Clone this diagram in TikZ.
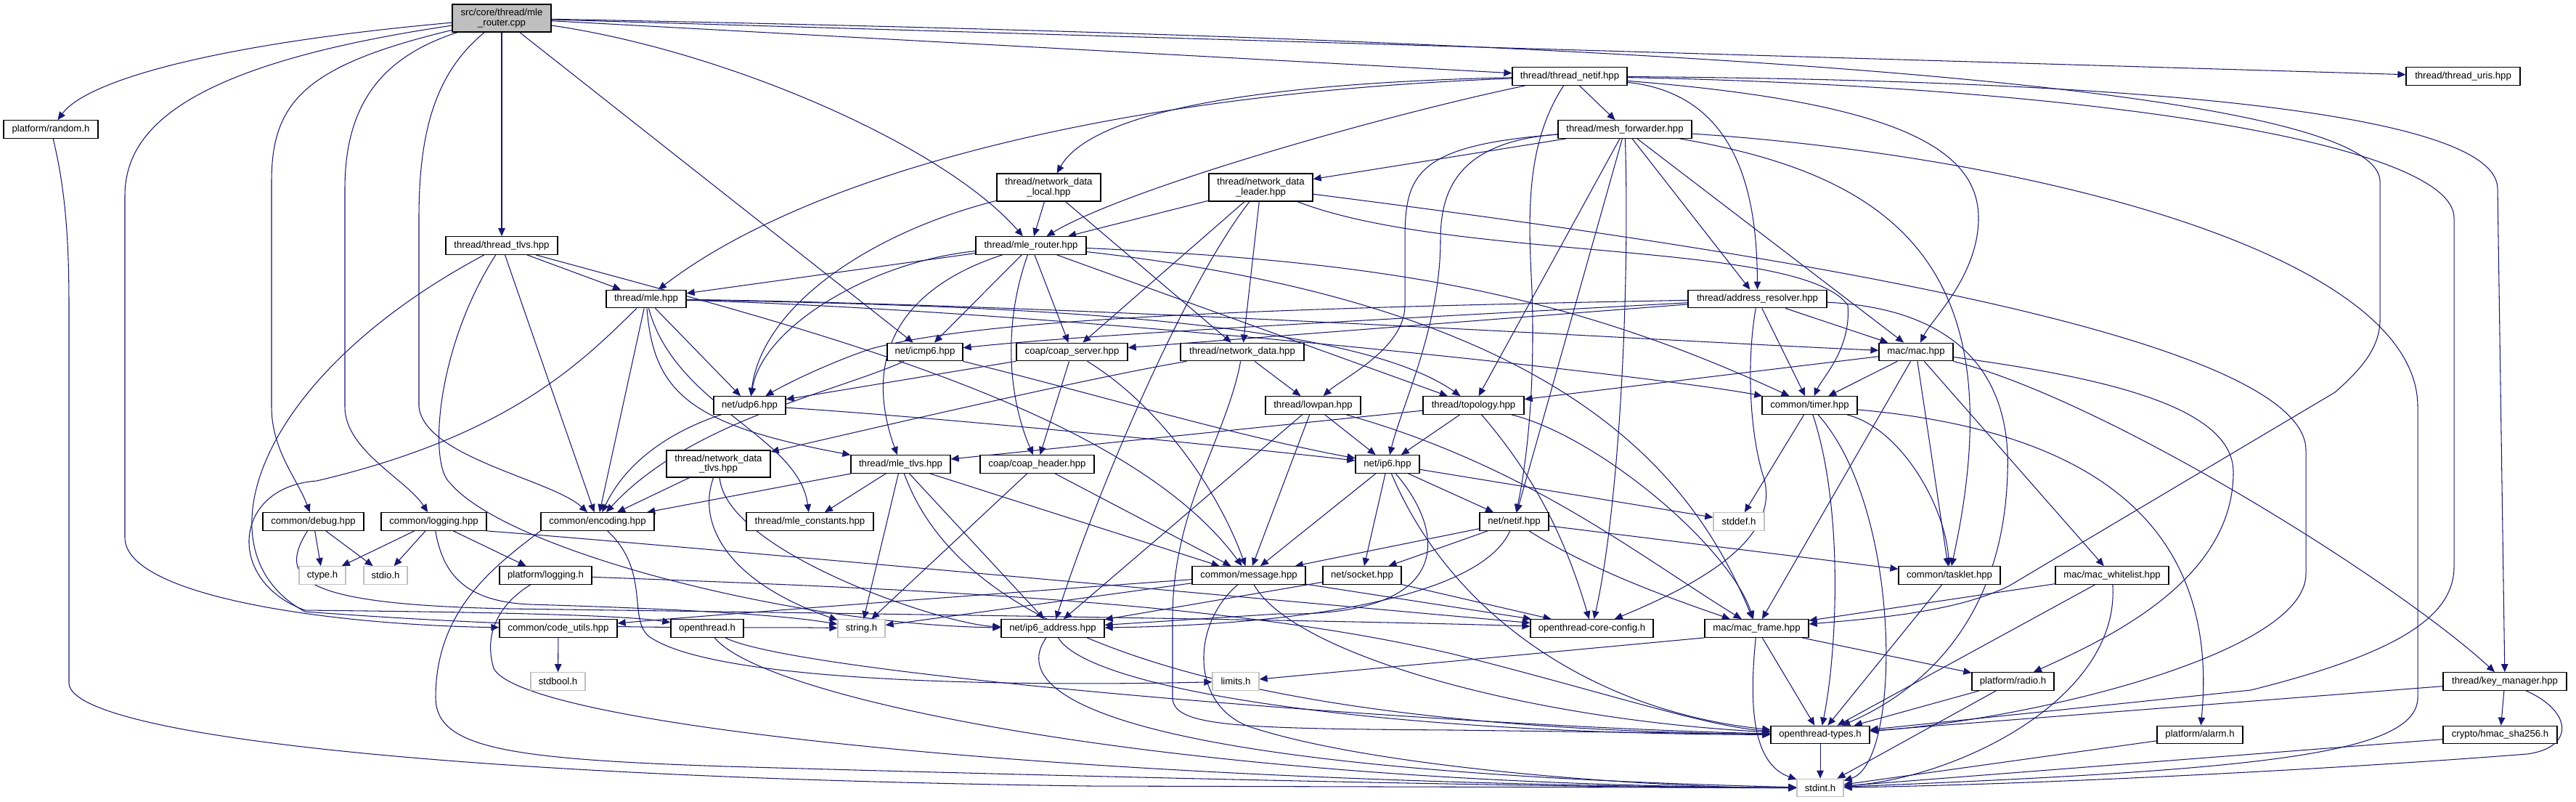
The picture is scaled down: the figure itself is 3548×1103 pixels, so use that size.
\documentclass[tikz,border=0pt]{standalone}
\usepackage{fontspec}
\setmainfont{Liberation Sans}
\usetikzlibrary{arrows.meta}
\definecolor{edgeblue}{HTML}{191970}
\definecolor{sysgray}{HTML}{BFBFBF}
\pgfdeclarelayer{bg}
\pgfsetlayers{bg,main}
\begin{document}
\begin{tikzpicture}[x=0.02cm,y=-0.02cm,
  box/.style={draw=black,line width=0.75pt,fill=white,inner sep=0pt,minimum height=0.49cm,
    font=\fontsize{7.5}{7.8}\selectfont,align=center},
  twoline/.style={box,minimum height=0.76cm},
  sys/.style={box,draw=sysgray},
  srcbox/.style={twoline,fill=sysgray},
  dep/.style={draw=edgeblue,line width=0.6pt,-{Triangle[length=0.22cm,width=0.19cm]}}]
\useasboundingbox (0,0) rectangle (3548,1103);

% ---------------- nodes ----------------
\node[srcbox,minimum width=2.72cm] (cpp) at (691,25) {src/core/thread/mle\\\_router.cpp};
\node[box,minimum width=2.60cm] (random) at (70,178) {platform/random.h};
\node[box,minimum width=3.08cm] (tlvs) at (691,338) {thread/thread\_tlvs.hpp};
\node[box,minimum width=2.20cm] (mle) at (890,411.5) {thread/mle.hpp};
\node[box,minimum width=2.78cm] (debug) at (431.5,718) {common/debug.hpp};
\node[box,minimum width=2.90cm] (logging) at (597.5,718) {common/logging.hpp};
\node[box,minimum width=3.12cm] (encoding) at (823,718) {common/encoding.hpp};
\node[sys,minimum width=1.28cm] (ctype) at (444,792) {ctype.h};
\node[sys,minimum width=1.20cm] (stdio) at (531,792) {stdio.h};
\node[box,minimum width=2.54cm] (platlog) at (751.5,792) {platform/logging.h};
\node[box,minimum width=3.24cm] (codeutils) at (769,865) {common/code\_utils.hpp};
\node[sys,minimum width=1.50cm] (stdbool) at (768.5,938) {stdbool.h};
\node[twoline,minimum width=2.86cm] (ndlocal) at (1444.5,258) {thread/network\_data\\\_local.hpp};
\node[twoline,minimum width=2.86cm] (ndleader) at (1736.5,258) {thread/network\_data\\\_leader.hpp};
\node[box,minimum width=3.04cm] (mlerouter) at (1420,338) {thread/mle\_router.hpp};
\node[box,minimum width=2.08cm] (icmp) at (1274,484.5) {net/icmp6.hpp};
\node[box,minimum width=3.06cm] (coapserver) at (1476.5,484.5) {coap/coap\_server.hpp};
\node[box,minimum width=3.40cm] (netdata) at (1711,484.5) {thread/network\_data.hpp};
\node[box,minimum width=1.98cm] (udp) at (1032.5,558) {net/udp6.hpp};
\node[twoline,minimum width=2.86cm,minimum height=0.74cm] (ndtlvs) at (989.5,638.5) {thread/network\_data\\\_tlvs.hpp};
\node[box,minimum width=2.74cm] (mletlvs) at (1240.5,639) {thread/mle\_tlvs.hpp};
\node[box,minimum width=3.14cm] (coapheader) at (1428.5,639) {coap/coap\_header.hpp};
\node[box,minimum width=3.50cm] (mleconst) at (1115.5,718) {thread/mle\_constants.hpp};
\node[box,minimum width=3.12cm] (message) at (1720,792) {common/message.hpp};
\node[box,minimum width=2.00cm] (othdr) at (974,865) {openthread.h};
\node[sys,minimum width=1.30cm] (stringh) at (1186.5,865) {string.h};
\node[box,minimum width=2.84cm] (ipaddr) at (1450,865) {net/ip6\_address.hpp};
\node[sys,minimum width=1.28cm] (limits) at (1702,938) {limits.h};
\node[box,minimum width=3.16cm] (netifT) at (2162,105) {thread/thread\_netif.hpp};
\node[box,minimum width=3.68cm] (meshfwd) at (2238,178) {thread/mesh\_forwarder.hpp};
\node[box,minimum width=3.82cm] (addrres) at (2420.5,411.5) {thread/address\_resolver.hpp};
\node[box,minimum width=2.04cm] (mac) at (2639,484.5) {mac/mac.hpp};
\node[box,minimum width=2.62cm] (lowpan) at (1808.5,558) {thread/lowpan.hpp};
\node[box,minimum width=2.78cm] (topology) at (2029.5,558) {thread/topology.hpp};
\node[box,minimum width=2.62cm] (timer) at (2492.5,558) {common/timer.hpp};
\node[box,minimum width=1.76cm] (ipsix) at (1911,639) {net/ip6.hpp};
\node[box,minimum width=1.90cm] (netif) at (2085.5,718) {net/netif.hpp};
\node[sys,minimum width=1.40cm] (stddef) at (2395,718) {stddef.h};
\node[box,minimum width=2.16cm] (socket) at (1876,792) {net/socket.hpp};
\node[box,minimum width=3.38cm] (coreconf) at (2192.5,865) {openthread-core-config.h};
\node[box,minimum width=2.86cm] (macframe) at (2419.5,865) {mac/mac\_frame.hpp};
\node[box,minimum width=2.72cm] (ottypes) at (2507,1011.5) {openthread-types.h};
\node[sys,minimum width=1.28cm] (stdint) at (2507,1084.5) {stdint.h};
\node[box,minimum width=2.80cm] (tasklet) at (2685,792) {common/tasklet.hpp};
\node[box,minimum width=3.14cm] (uris) at (3392.5,105) {thread/thread\_uris.hpp};
\node[box,minimum width=3.12cm] (whitelist) at (2909,792) {mac/mac\_whitelist.hpp};
\node[box,minimum width=2.26cm] (radio) at (2772.5,938) {platform/radio.h};
\node[box,minimum width=2.36cm] (alarm) at (3030,1011.5) {platform/alarm.h};
\node[box,minimum width=3.40cm] (keymgr) at (3450,938) {thread/key\_manager.hpp};
\node[box,minimum width=3.14cm] (hmac) at (3443.5,1011.5) {crypto/hmac\_sha256.h};

% ---------------- edges ----------------
\begin{pgfonlayer}{bg}
% source file
\draw[dep] (cpp) .. controls (300,60) and (120,110) .. (random);
\draw[dep] (cpp) -- (tlvs);
\draw[dep] (cpp) .. controls (420,90) and (374,140) .. (374,250) -- (374,560) .. controls (374,620) and (410,660) .. (debug);
\draw[dep] (cpp) .. controls (520,80) and (475,150) .. (475,260) -- (475,560) .. controls (475,620) and (560,660) .. (logging);
\draw[dep] (cpp) .. controls (600,100) and (577,180) .. (577,300) -- (577,560) .. controls (585,630) and (760,660) .. (encoding);
\draw[dep] (cpp) .. controls (250,90) and (172,180) .. (172,270) -- (172,740) .. controls (172,820) and (450,860) .. (codeutils);
\draw[dep] (cpp) -- (icmp);
\draw[dep] (cpp) .. controls (1000,70) and (1300,200) .. (mlerouter);
\draw[dep] (cpp) -- (netifT);
\draw[dep] (cpp) -- (uris);
\draw[dep] (cpp) .. controls (2000,50) and (3278,100) .. (3278,250) -- (3278,440) .. controls (3278,480) and (3250,510) .. (3216,540) -- (2768,806) .. controls (2700,840) and (2600,850) .. (macframe);
% random
\draw[dep] (random) .. controls (90,260) and (95,330) .. (95,420) -- (95,940) .. controls (95,1010) and (600,1070) .. (1500,1082) -- (stdint);
% thread_tlvs
\draw[dep] (tlvs) -- (mle);
\draw[dep] (tlvs) -- (encoding);
\draw[dep] (tlvs) .. controls (1100,450) and (1550,560) .. (message);
\draw[dep] (tlvs) .. controls (350,520) and (270,760) .. (420,842) .. controls (800,870) and (1000,862) .. (stringh);
\draw[dep] (tlvs) .. controls (600,480) and (590,640) .. (620,665) .. controls (700,760) and (1100,860) .. (ipaddr);
% thread_netif
\draw[dep] (netifT) .. controls (1700,115) and (1500,160) .. (ndlocal);
\draw[dep] (netifT) .. controls (1500,130) and (1100,250) .. (mle);
\draw[dep] (netifT) .. controls (1900,160) and (1550,260) .. (mlerouter);
\draw[dep] (netifT) .. controls (2100,200) and (2105,300) .. (2110,400) .. controls (2115,550) and (2100,650) .. (netif);
\draw[dep] (netifT) -- (meshfwd);
\draw[dep] (netifT) .. controls (2400,130) and (2420,280) .. (addrres);
\draw[dep] (netifT) .. controls (2600,140) and (2725,200) .. (2725,300) .. controls (2725,380) and (2660,440) .. (mac);
\draw[dep] (netifT) .. controls (2900,110) and (3440,150) .. (3440,260) -- (keymgr);
\draw[dep] (netifT) .. controls (2900,120) and (3380,200) .. (3380,300) -- (3380,780) .. controls (3380,850) and (3300,900) .. (3100,950) -- (ottypes);
% mesh_forwarder
\draw[dep] (meshfwd) -- (ndleader);
\draw[dep] (meshfwd) .. controls (1950,200) and (1935,240) .. (1935,330) -- (1935,420) .. controls (1935,480) and (1850,520) .. (lowpan);
\draw[dep] (meshfwd) .. controls (2010,195) and (1984,260) .. (1984,330) .. controls (1984,450) and (1930,560) .. (ipsix);
\draw[dep] (meshfwd) -- (topology);
\draw[dep] (meshfwd) -- (netif);
\draw[dep] (meshfwd) .. controls (2245,400) and (2230,700) .. (coreconf);
\draw[dep] (meshfwd) -- (addrres);
\draw[dep] (meshfwd) -- (mac);
\draw[dep] (meshfwd) .. controls (2600,240) and (2780,360) .. (tasklet);
\draw[dep] (meshfwd) .. controls (2800,215) and (3330,350) .. (3330,560) -- (3330,960) .. controls (3330,1040) and (3100,1060) .. (stdint);
% network_data_local
\draw[dep] (ndlocal) -- (mlerouter);
\draw[dep] (ndlocal) .. controls (1200,320) and (1050,420) .. (udp);
\draw[dep] (ndlocal) -- (netdata);
% network_data_leader
\draw[dep] (ndleader) -- (mlerouter);
\draw[dep] (ndleader) -- (coapserver);
\draw[dep] (ndleader) -- (netdata);
\draw[dep] (ndleader) .. controls (1640,380) and (1520,650) .. (ipaddr);
\draw[dep] (ndleader) .. controls (2000,360) and (2480,330) .. (2545,420) .. controls (2550,480) and (2510,520) .. (timer);
\draw[dep] (ndleader) .. controls (2300,330) and (3176,450) .. (3176,620) -- (3176,790) .. controls (3176,900) and (2800,990) .. (ottypes);
% mle_router.hpp
\draw[dep] (mlerouter) -- (mle);
\draw[dep] (mlerouter) .. controls (1200,360) and (1050,450) .. (udp);
\draw[dep] (mlerouter) -- (icmp);
\draw[dep] (mlerouter) -- (coapserver);
\draw[dep] (mlerouter) .. controls (1380,450) and (1390,550) .. (coapheader);
\draw[dep] (mlerouter) .. controls (1230,400) and (1190,500) .. (mletlvs);
\draw[dep] (mlerouter) -- (topology);
\draw[dep] (mlerouter) .. controls (1900,360) and (2150,400) .. (timer);
\draw[dep] (mlerouter) .. controls (2150,420) and (2330,650) .. (macframe);
% mle.hpp
\draw[dep] (mle) -- (encoding);
\draw[dep] (mle) .. controls (900,540) and (950,585) .. (mletlvs);
\draw[dep] (mle) .. controls (930,560) and (1100,600) .. (mleconst);
\draw[dep] (mle) -- (udp);
\draw[dep] (mle) .. controls (1300,420) and (1850,430) .. (topology);
\draw[dep] (mle) .. controls (1500,420) and (2300,470) .. (mac);
\draw[dep] (mle) .. controls (1500,430) and (2300,520) .. (timer);
\draw[dep] (mle) .. controls (800,500) and (700,600) .. (436,662) .. controls (320,670) and (310,800) .. (420,840) .. controls (600,842) and (850,845) .. (othdr);
% debug / logging
\draw[dep] (debug) -- (ctype);
\draw[dep] (debug) -- (stdio);
\draw[dep] (debug) .. controls (380,800) and (420,832) .. (700,838) .. controls (1300,846) and (1900,855) .. (coreconf);
\draw[dep] (logging) -- (ctype);
\draw[dep] (logging) -- (stdio);
\draw[dep] (logging) -- (platlog);
\draw[dep] (logging.south east) .. controls (900,748) and (1800,830) .. (coreconf);
\draw[dep] (logging) .. controls (610,790) and (640,828) .. (730,832) .. controls (1000,840) and (1100,850) .. (stringh);
% encoding
\draw[dep] (encoding.south west) .. controls (680,780) and (600,840) .. (600,960) .. controls (600,1030) and (700,1045) .. (1000,1055) .. controls (1800,1078) and (2300,1085) .. (stdint);
\draw[dep] (encoding) .. controls (900,790) and (860,860) .. (900,880) .. controls (1000,940) and (1400,945) .. (limits);
% platform/logging.h, code_utils
\draw[dep] (platlog) .. controls (1300,812) and (1700,830) .. (2000,900) .. controls (2200,950) and (2350,1000) .. (ottypes);
\draw[dep] (platlog) .. controls (690,830) and (665,870) .. (680,920) .. controls (720,1000) and (1500,1080) .. (stdint);
\draw[dep] (codeutils) -- (stdbool);
% network_data_tlvs
\draw[dep] (ndtlvs) -- (encoding);
\draw[dep] (ndtlvs) .. controls (960,720) and (1000,800) .. (stringh);
\draw[dep] (ndtlvs) .. controls (1000,760) and (1300,860) .. (ipaddr);
% network_data
\draw[dep] (netdata) .. controls (1500,520) and (1200,590) .. (ndtlvs);
\draw[dep] (netdata) -- (lowpan);
\draw[dep] (netdata) .. controls (1690,600) and (1615,700) .. (1615,850) -- (1615,960) .. controls (1615,1000) and (1700,1003) .. (2000,1005) -- (ottypes);
% coap
\draw[dep] (coapserver) -- (udp);
\draw[dep] (coapserver) -- (coapheader);
\draw[dep] (coapserver) .. controls (1600,560) and (1680,680) .. (message);
\draw[dep] (coapheader) -- (stringh);
\draw[dep] (coapheader) -- (message);
% icmp6, udp6
\draw[dep] (icmp) .. controls (1150,540) and (950,580) .. (encoding);
\draw[dep] (icmp) .. controls (1500,540) and (1700,600) .. (ipsix);
\draw[dep] (udp) .. controls (1300,575) and (1700,615) .. (ipsix);
\draw[dep] (udp) .. controls (950,585) and (870,620) .. (encoding);
% mle_tlvs
\draw[dep] (mletlvs) -- (encoding);
\draw[dep] (mletlvs) -- (mleconst);
\draw[dep] (mletlvs) -- (stringh);
\draw[dep] (mletlvs) .. controls (1300,800) and (1500,1000) .. (ottypes);
\draw[dep] (mletlvs) -- (ipaddr);
\draw[dep] (mletlvs) -- (message);
% message
\draw[dep] (message) .. controls (1400,815) and (1000,845) .. (codeutils);
\draw[dep] (message) -- (stringh);
\draw[dep] (message) -- (coreconf);
\draw[dep] (message) .. controls (1780,900) and (2100,990) .. (ottypes);
\draw[dep] (message) .. controls (1640,860) and (1640,970) .. (1720,1000) .. controls (1900,1060) and (2300,1085) .. (stdint);
% openthread.h, ip6_address
\draw[dep] (othdr) .. controls (1100,930) and (2000,1000) .. (ottypes);
\draw[dep] (othdr) .. controls (1050,960) and (1600,1080) .. (stdint);
\draw[dep] (ipaddr) .. controls (1500,950) and (1900,1010) .. (ottypes);
\draw[dep] (ipaddr) .. controls (1390,950) and (1500,1060) .. (stdint);
% lowpan
\draw[dep] (lowpan) -- (ipsix);
\draw[dep] (lowpan) -- (message);
\draw[dep] (lowpan) -- (ipaddr);
\draw[dep] (lowpan) .. controls (2100,640) and (2250,760) .. (macframe);
% topology
\draw[dep] (topology) -- (mletlvs);
\draw[dep] (topology) -- (ipsix);
\draw[dep] (topology) .. controls (2100,640) and (2150,720) .. (coreconf);
\draw[dep] (topology) .. controls (2200,600) and (2380,750) .. (macframe);
% timer
\draw[dep] (timer) -- (stddef);
\draw[dep] (timer) .. controls (2620,590) and (2680,700) .. (tasklet);
\draw[dep] (timer) .. controls (2540,700) and (2530,900) .. (ottypes);
\draw[dep] (timer) .. controls (2850,590) and (3060,700) .. (alarm);
\draw[dep] (timer) .. controls (2620,700) and (2620,1050) .. (stdint);
% ip6
\draw[dep] (ipsix) -- (message);
\draw[dep] (ipsix) -- (socket);
\draw[dep] (ipsix) .. controls (1990,730) and (2010,850) .. (1760,845) -- (ipaddr);
\draw[dep] (ipsix) .. controls (2000,850) and (2200,980) .. (ottypes);
\draw[dep] (ipsix) -- (netif);
\draw[dep] (ipsix) -- (stddef);
% netif, socket
\draw[dep] (netif) -- (message);
\draw[dep] (netif) -- (socket);
\draw[dep] (netif) .. controls (2040,820) and (1800,860) .. (ipaddr);
\draw[dep] (netif) .. controls (2200,790) and (2320,830) .. (macframe);
\draw[dep] (netif) -- (tasklet);
\draw[dep] (socket) -- (ipaddr);
\draw[dep] (socket) -- (coreconf);
% address_resolver
\draw[dep] (addrres) .. controls (1900,440) and (1500,460) .. (icmp);
\draw[dep] (addrres) -- (coapserver);
\draw[dep] (addrres) .. controls (1700,425) and (1350,440) .. (1200,480) .. controls (1140,500) and (1080,530) .. (udp);
\draw[dep] (addrres) .. controls (2405,500) and (2410,600) .. (2430,660) .. controls (2450,740) and (2350,800) .. (coreconf);
\draw[dep] (addrres) -- (timer);
\draw[dep] (addrres) -- (mac);
\draw[dep] (addrres) .. controls (2700,425) and (2770,520) .. (2765,650) .. controls (2760,850) and (2650,950) .. (ottypes);
% mac
\draw[dep] (mac) -- (topology);
\draw[dep] (mac) -- (timer);
\draw[dep] (mac) -- (tasklet);
\draw[dep] (mac) -- (macframe);
\draw[dep] (mac) -- (whitelist);
\draw[dep] (mac) .. controls (2900,520) and (3076,560) .. (3076,650) .. controls (3076,800) and (2900,880) .. (radio);
\draw[dep] (mac) .. controls (2900,550) and (3300,800) .. (keymgr);
% lower nodes
\draw[dep] (tasklet) -- (ottypes);
\draw[dep] (whitelist) -- (macframe);
\draw[dep] (whitelist) -- (ottypes);
\draw[dep] (whitelist) .. controls (2920,960) and (2700,1070) .. (stdint);
\draw[dep] (macframe.south west) -- (limits);
\draw[dep] (macframe) -- (ottypes);
\draw[dep] (macframe) .. controls (2410,960) and (2410,1050) .. (stdint);
\draw[dep] (macframe) -- (radio);
\draw[dep] (radio) -- (ottypes);
\draw[dep] (radio) -- (stdint);
\draw[dep] (alarm) -- (stdint);
\draw[dep] (keymgr) -- (ottypes);
\draw[dep] (keymgr) -- (hmac);
\draw[dep] (keymgr) .. controls (3545,980) and (3545,1030) .. (3480,1038) .. controls (3200,1060) and (2800,1080) .. (stdint);
\draw[dep] (hmac) -- (stdint);
\draw[dep] (ottypes) -- (stdint);
\end{pgfonlayer}
\end{tikzpicture}
\end{document}
